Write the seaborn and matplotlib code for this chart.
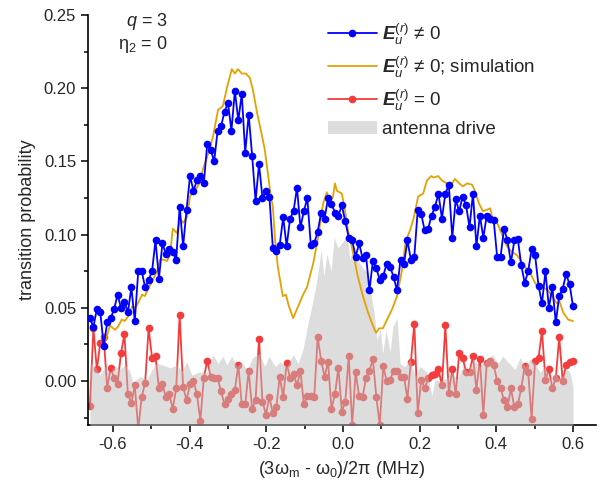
import numpy as np
import seaborn as sns
import matplotlib.pyplot as plt
from matplotlib.lines import Line2D
from matplotlib.patches import Patch
from matplotlib.ticker import MultipleLocator, FormatStrFormatter

# measured transition probability, E_u^(r) != 0 (blue) and E_u^(r) = 0 (red)
meas_blue = [0.043, 0.037, 0.049, 0.047, 0.024, 0.040, 0.043, 0.049, 0.059, 0.050,
             0.054, 0.047, 0.064, 0.041, 0.075, 0.075, 0.064, 0.069, 0.075, 0.096,
             0.070, 0.094, 0.087, 0.090, 0.088, 0.083, 0.119, 0.092, 0.117, 0.140,
             0.130, 0.137, 0.140, 0.135, 0.162, 0.158, 0.150, 0.171, 0.174, 0.184,
             0.190, 0.171, 0.198, 0.178, 0.196, 0.156, 0.182, 0.154,
             0.123, 0.148, 0.125, 0.130, 0.126, 0.091, 0.089, 0.093, 0.112, 0.092,
             0.111, 0.116, 0.132, 0.105, 0.116, 0.125, 0.093, 0.094, 0.102, 0.115,
             0.111, 0.125, 0.121, 0.115, 0.113, 0.120, 0.109, 0.098, 0.096, 0.085,
             0.094, 0.084, 0.086, 0.062, 0.082, 0.077, 0.069, 0.072, 0.080, 0.078,
             0.071, 0.062, 0.083, 0.080, 0.096, 0.083, 0.085, 0.117, 0.114, 0.103,
             0.104, 0.113, 0.119, 0.128, 0.111, 0.128, 0.134, 0.098, 0.124, 0.116,
             0.126, 0.120, 0.105, 0.128, 0.092, 0.113, 0.098, 0.113, 0.111, 0.110,
             0.085, 0.085, 0.104, 0.096, 0.081, 0.096, 0.097, 0.079, 0.067, 0.075,
             0.090, 0.086, 0.065, 0.053, 0.075, 0.050, 0.064, 0.040, 0.058, 0.063,
             0.073, 0.066, 0.051]

meas_red = [-0.017, 0.036, 0.008, 0.026, 0.030, -0.005, 0.009, 0.002, -0.002, 0.019,
            0.032, -0.009, -0.015, -0.003, -0.033, -0.011, -0.001, 0.036, 0.016, 0.017,
            -0.005, -0.002, -0.011, -0.009, -0.019, -0.005, 0.045, -0.004, -0.013, -0.002,
            0.000, -0.009, -0.027, 0.002, 0.014, 0.003, 0.002, 0.002, -0.007, -0.016,
            -0.012, -0.009, -0.006, 0.011, -0.016, -0.016, 0.007, -0.019, -0.013, 0.029,
            -0.014, -0.023, -0.011, -0.022, -0.018, 0.003, -0.011, 0.012, 0.002, 0.005,
            -0.003, 0.007, -0.016, -0.010, -0.010, -0.011,
            0.030, 0.014, 0.003, 0.013, -0.019, -0.009, 0.009, -0.021, -0.014, 0.017,
            -0.030, 0.006, -0.010, -0.011, 0.002,
            0.007, 0.015, -0.011, -0.030, 0.010, 0.000, 0.001, 0.007, 0.007, 0.003,
            0.003, -0.012, 0.013, 0.039, -0.022, 0.001, -0.005, 0.002, 0.004, 0.005,
            0.008, -0.003, 0.038, -0.008, 0.008, -0.009, 0.019, 0.016, 0.006, 0.006,
            0.017, -0.006, 0.015, -0.023, 0.012, 0.014, 0.011, 0.000, -0.005, -0.013,
            -0.018, -0.005, -0.018, -0.016, -0.005, 0.010, 0.006, -0.026, 0.014, 0.016,
            0.034, 0.001, 0.008, -0.005, 0.002, 0.030, 0.000, 0.011, 0.013, 0.014]

detuning = np.linspace(-0.66, 0.60, len(meas_blue))

# simulation
sim_x = [-0.621, -0.608, -0.595, -0.587, -0.577, -0.569, -0.561, -0.550, -0.543, -0.535,
         -0.524, -0.517, -0.506, -0.496, -0.485, -0.477, -0.470, -0.459, -0.451, -0.444,
         -0.433, -0.425, -0.417, -0.407, -0.399, -0.391, -0.381, -0.373, -0.365, -0.352,
         -0.339, -0.326, -0.313, -0.303, -0.295, -0.290, -0.282, -0.274, -0.264, -0.253,
         -0.243, -0.235, -0.224, -0.214, -0.204, -0.196, -0.188, -0.183, -0.177, -0.170,
         -0.157, -0.149, -0.141, -0.130, -0.117, -0.104, -0.094, -0.078, -0.065, -0.052,
         -0.042, -0.037, -0.026, -0.021, -0.016, -0.003, 0.005, 0.013, 0.026, 0.039,
         0.052, 0.065, 0.078, 0.086, 0.094, 0.104, 0.115, 0.128, 0.141, 0.154,
         0.164, 0.175, 0.185, 0.196, 0.209, 0.219, 0.230, 0.237, 0.248, 0.258,
         0.271, 0.282, 0.292, 0.303, 0.313, 0.324, 0.337, 0.344, 0.355, 0.365,
         0.376, 0.384, 0.389, 0.402, 0.415, 0.428, 0.441, 0.454, 0.462, 0.475,
         0.488, 0.501, 0.509, 0.522, 0.535, 0.545, 0.558, 0.564, 0.574, 0.587, 0.600]
sim_y = [0.026, 0.038, 0.035, 0.037, 0.042, 0.041, 0.044, 0.051, 0.050, 0.053,
         0.059, 0.058, 0.064, 0.069, 0.075, 0.083, 0.083, 0.082, 0.086, 0.104,
         0.101, 0.111, 0.108, 0.112, 0.126, 0.130, 0.132, 0.136, 0.145, 0.155,
         0.167, 0.185, 0.188, 0.200, 0.208, 0.213, 0.210, 0.213, 0.210, 0.210,
         0.207, 0.199, 0.183, 0.171, 0.158, 0.142, 0.126, 0.119, 0.096, 0.078,
         0.058, 0.059, 0.051, 0.043, 0.051, 0.059, 0.064, 0.080, 0.098, 0.121,
         0.129, 0.121, 0.126, 0.135, 0.130, 0.128, 0.117, 0.103, 0.088, 0.071,
         0.058, 0.047, 0.038, 0.033, 0.036, 0.036, 0.042, 0.049, 0.058, 0.076,
         0.096, 0.103, 0.112, 0.126, 0.128, 0.137, 0.140, 0.139, 0.140, 0.137,
         0.135, 0.134, 0.138, 0.135, 0.133, 0.135, 0.134, 0.130, 0.121, 0.116,
         0.117, 0.118, 0.112, 0.108, 0.100, 0.092, 0.088, 0.086, 0.083, 0.078,
         0.074, 0.067, 0.064, 0.064, 0.062, 0.058, 0.053, 0.055, 0.047, 0.042, 0.041]

# antenna drive (arb. units)
drive_x = [-0.660, -0.647, -0.634, -0.621, -0.608, -0.595, -0.582, -0.569, -0.556, -0.548,
           -0.530, -0.511, -0.498, -0.485, -0.470, -0.451, -0.433, -0.420, -0.407, -0.394,
           -0.378, -0.355, -0.339, -0.326, -0.313, -0.303, -0.290, -0.277, -0.264, -0.250,
           -0.235, -0.217, -0.204, -0.193, -0.177, -0.164, -0.146, -0.130, -0.117, -0.104,
           -0.091, -0.078, -0.068, -0.057, -0.050, -0.042, -0.031, -0.023, -0.013, 0.000,
           0.010, 0.018, 0.026, 0.037, 0.050, 0.063, 0.070, 0.081, 0.089, 0.097,
           0.104, 0.112, 0.123, 0.130, 0.141, 0.149, 0.162, 0.175, 0.188, 0.201,
           0.219, 0.232, 0.240, 0.253, 0.271, 0.284, 0.297, 0.313, 0.326, 0.339,
           0.357, 0.376, 0.391, 0.404, 0.417, 0.430, 0.449, 0.462, 0.475, 0.488,
           0.501, 0.514, 0.527, 0.540, 0.553, 0.566, 0.584, 0.592, 0.600]
drive_y = [0.012, 0.010, 0.004, 0.010, 0.006, 0.010, 0.008, 0.011, 0.007, -0.001,
           0.003, 0.001, 0.008, 0.012, 0.011, 0.009, 0.011, 0.007, 0.013, 0.004,
           0.006, 0.006, 0.018, 0.012, 0.017, 0.011, 0.017, 0.010, 0.013, 0.008,
           0.016, 0.019, 0.010, 0.017, 0.010, 0.013, 0.010, 0.018, 0.012, 0.022,
           0.040, 0.055, 0.069, 0.090, 0.072, 0.087, 0.075, 0.098, 0.091, 0.095,
           0.101, 0.083, 0.091, 0.083, 0.078, 0.074, 0.064, 0.047, 0.028, 0.036,
           0.019, 0.035, 0.020, 0.037, 0.043, 0.012, 0.010, 0.015, 0.003, 0.010,
           0.006, -0.010, 0.001, 0.000, 0.002, 0.006, 0.001, 0.010, 0.006, 0.015,
           0.010, 0.015, 0.018, 0.012, 0.017, 0.013, 0.008, 0.016, 0.010, 0.015,
           0.012, 0.006, 0.010, 0.001, 0.006, 0.001, 0.008, 0.006, -0.004]

blue = '#0000ff'
orange = '#e6a100'
red = '#f53c3c'
gray = '#bdbdbd'
msize = 5.5
lw = 1.3

sns.set_style('ticks')
plt.rcParams['font.family'] = ['Liberation Sans', 'DejaVu Sans']
plt.rcParams['mathtext.fontset'] = 'custom'
plt.rcParams['mathtext.rm'] = 'Liberation Sans'
plt.rcParams['mathtext.it'] = 'Liberation Sans:italic'
plt.rcParams['mathtext.bf'] = 'Liberation Sans:bold'
plt.rcParams['mathtext.bfit'] = 'Liberation Sans:bold:italic'
plt.rcParams['axes.unicode_minus'] = False

fig = plt.figure(figsize=(6, 4.94), dpi=100)
ax = fig.add_axes([0.1467, 0.1397, 0.8467, 0.830])

# red under the drive fill, so it turns pink where covered
sns.lineplot(x=detuning, y=meas_red, ax=ax, color=red, marker='o', markersize=msize,
             markeredgewidth=0, linewidth=lw, zorder=2)
ax.fill_between(drive_x, drive_y, -0.05, color=gray, alpha=0.5, linewidth=0, zorder=3)
sns.lineplot(x=sim_x, y=sim_y, ax=ax, color=orange, linewidth=lw, zorder=4)
sns.lineplot(x=detuning, y=meas_blue, ax=ax, color=blue, marker='o', markersize=msize,
             markeredgewidth=0, linewidth=lw, zorder=5)

ax.set_xlim(-0.665, 0.66)
ax.set_ylim(-0.03, 0.25)
ax.xaxis.set_major_locator(MultipleLocator(0.2))
ax.xaxis.set_minor_locator(MultipleLocator(0.1))
ax.yaxis.set_major_locator(MultipleLocator(0.05))
ax.yaxis.set_minor_locator(MultipleLocator(0.025))
ax.xaxis.set_major_formatter(FormatStrFormatter('%.1f'))
ax.yaxis.set_major_formatter(FormatStrFormatter('%.2f'))
ax.tick_params(which='major', direction='out', length=5, width=1.1, labelsize=12, color='black')
ax.tick_params(which='minor', direction='out', length=3, width=1.1, color='black')
for side in ['top', 'right']:
    ax.spines[side].set_visible(False)
for side in ['left', 'bottom']:
    ax.spines[side].set_linewidth(1.2)
    ax.spines[side].set_color('black')

ax.set_xlabel('(3ω$_\\mathrm{m}$ - ω$_0$)/2π (MHz)', fontsize=13, labelpad=5)
ax.set_ylabel('transition probability', fontsize=13, labelpad=6)

ax.text(0.157, 0.983, '$q$ = 3', transform=ax.transAxes, ha='right', va='center', fontsize=13)
ax.text(0.157, 0.927, 'η$_2$ = 0', transform=ax.transAxes, ha='right', va='center', fontsize=13)

handles = [
    Line2D([], [], color=blue, marker='o', markersize=msize, markeredgewidth=0, linewidth=lw),
    Line2D([], [], color=orange, linewidth=lw),
    Line2D([], [], color=red, marker='o', markersize=msize, markeredgewidth=0, linewidth=lw),
    Patch(facecolor=gray, alpha=0.5, edgecolor='none'),
]
labels = [
    r'$\mathbfit{E}_{u}^{(r)}$ ≠ 0',
    r'$\mathbfit{E}_{u}^{(r)}$ ≠ 0; simulation',
    r'$\mathbfit{E}_{u}^{(r)}$ = 0',
    'antenna drive',
]
ax.legend(handles, labels, loc='upper left', bbox_to_anchor=(0.45, 1.012), frameon=False,
          fontsize=13.5, handlelength=2.6, handletextpad=0.3, labelspacing=0.42,
          borderaxespad=0.2)

fig.savefig('out.png', dpi=100)
